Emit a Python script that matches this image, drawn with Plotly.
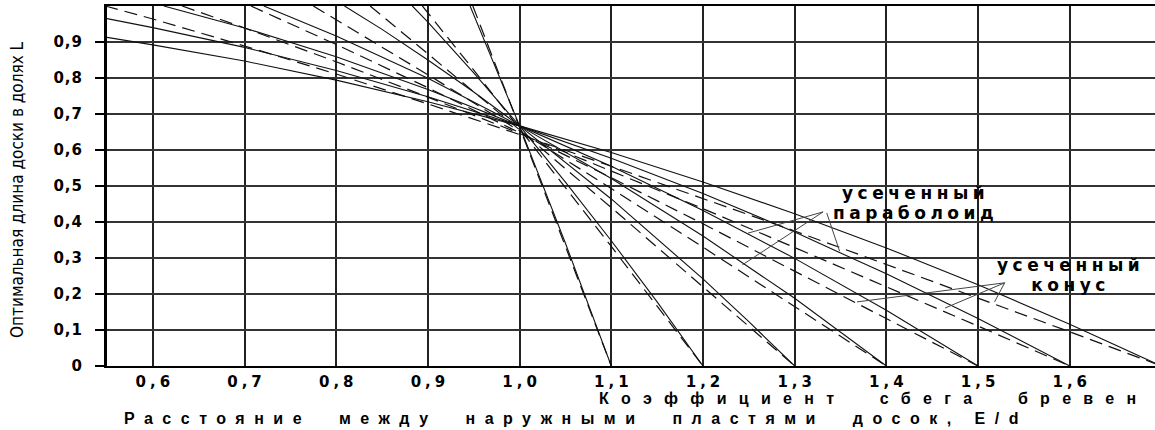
import plotly.graph_objects as go

# ---- data ----
X_TICKS = [0.6, 0.7, 0.8, 0.9, 1.0, 1.1, 1.2, 1.3, 1.4, 1.5, 1.6]
X_TICK_LABELS = ["0,6", "0,7", "0,8", "0,9", "1,0", "1,1", "1,2", "1,3", "1,4", "1,5", "1,6"]
Y_TICKS = [0, 0.1, 0.2, 0.3, 0.4, 0.5, 0.6, 0.7, 0.8, 0.9]
Y_TICK_LABELS = ["0", "0,1", "0,2", "0,3", "0,4", "0,5", "0,6", "0,7", "0,8", "0,9"]

TAPER = [1.1, 1.2, 1.3, 1.4, 1.5, 1.6, 1.7]

# truncated paraboloid (solid lines)
PARA_11_X = [0.946, 0.97, 1.0, 1.05, 1.1]
PARA_11_Y = [1.0, 0.854, 0.667, 0.341, 0.0]
PARA_12_X = [0.883, 0.9, 0.95, 1.0, 1.05, 1.1, 1.15, 1.2]
PARA_12_Y = [1.0, 0.955, 0.814, 0.667, 0.511, 0.348, 0.178, 0.0]
PARA_13_X = [0.809, 0.85, 0.9, 0.95, 1.0, 1.1, 1.2, 1.25, 1.3]
PARA_13_Y = [1.0, 0.935, 0.850, 0.761, 0.667, 0.464, 0.242, 0.123, 0.0]
PARA_14_X = [0.721, 0.76, 0.8, 0.9, 1.0, 1.1, 1.2, 1.3, 1.4]
PARA_14_Y = [1.0, 0.960, 0.917, 0.799, 0.667, 0.521, 0.361, 0.188, 0.0]
PARA_15_X = [0.612, 0.7, 0.8, 0.9, 1.0, 1.1, 1.2, 1.3, 1.4, 1.5]
PARA_15_Y = [1.0, 0.939, 0.859, 0.768, 0.667, 0.555, 0.432, 0.299, 0.155, 0.0]
PARA_16_X = [0.55, 0.6, 0.7, 0.8, 0.9, 1.0, 1.1, 1.2, 1.3, 1.4, 1.5, 1.6]
PARA_16_Y = [0.965, 0.940, 0.885, 0.821, 0.748, 0.667, 0.577, 0.479, 0.372, 0.256, 0.132, 0.0]
PARA_17_X = [0.55, 0.6, 0.7, 0.8, 0.9, 1.0, 1.1, 1.2, 1.3, 1.4, 1.5, 1.6, 1.7]
PARA_17_Y = [0.913, 0.892, 0.847, 0.794, 0.734, 0.667, 0.593, 0.511, 0.423, 0.328, 0.226, 0.116, 0.0]

# truncated cone (dashed lines)
CONE_11_X = [0.949, 0.97, 1.0, 1.05, 1.1]
CONE_11_Y = [1.0, 0.860, 0.663, 0.332, 0.0]
CONE_12_X = [0.894, 0.95, 1.0, 1.05, 1.1, 1.15, 1.2]
CONE_12_Y = [1.0, 0.822, 0.659, 0.496, 0.332, 0.166, 0.0]
CONE_13_X = [0.837, 0.9, 1.0, 1.1, 1.2, 1.3]
CONE_13_Y = [1.0, 0.868, 0.656, 0.440, 0.221, 0.0]
CONE_14_X = [0.775, 0.8, 0.9, 1.0, 1.1, 1.2, 1.3, 1.4]
CONE_14_Y = [1.0, 0.962, 0.809, 0.653, 0.493, 0.330, 0.166, 0.0]
CONE_15_X = [0.707, 0.8, 0.9, 1.0, 1.1, 1.2, 1.3, 1.4, 1.5]
CONE_15_Y = [1.0, 0.893, 0.773, 0.649, 0.523, 0.395, 0.264, 0.133, 0.0]
CONE_16_X = [0.632, 0.7, 0.8, 0.9, 1.0, 1.1, 1.2, 1.3, 1.4, 1.5, 1.6]
CONE_16_Y = [1.0, 0.939, 0.845, 0.747, 0.646, 0.542, 0.437, 0.329, 0.221, 0.111, 0.0]
CONE_17_X = [0.548, 0.6, 0.7, 0.8, 0.9, 1.0, 1.1, 1.2, 1.3, 1.4, 1.5, 1.6, 1.7]
CONE_17_Y = [1.0, 0.964, 0.889, 0.811, 0.728, 0.643, 0.555, 0.466, 0.375, 0.282, 0.189, 0.095, 0.0]

PARA = [(PARA_11_X, PARA_11_Y), (PARA_12_X, PARA_12_Y), (PARA_13_X, PARA_13_Y),
        (PARA_14_X, PARA_14_Y), (PARA_15_X, PARA_15_Y), (PARA_16_X, PARA_16_Y),
        (PARA_17_X, PARA_17_Y)]
CONE = [(CONE_11_X, CONE_11_Y), (CONE_12_X, CONE_12_Y), (CONE_13_X, CONE_13_Y),
        (CONE_14_X, CONE_14_Y), (CONE_15_X, CONE_15_Y), (CONE_16_X, CONE_16_Y),
        (CONE_17_X, CONE_17_Y)]

fig = go.Figure()
for k, (xs, ys) in zip(TAPER, CONE):
    fig.add_trace(go.Scatter(x=xs, y=ys, mode="lines", name=f"конус {k}",
                             line=dict(color="#111111", width=1.2, dash="13px,7px"),
                             hoverinfo="skip", showlegend=False))
for k, (xs, ys) in zip(TAPER, PARA):
    fig.add_trace(go.Scatter(x=xs, y=ys, mode="lines", name=f"параболоид {k}",
                             line=dict(color="#111111", width=1.1),
                             hoverinfo="skip", showlegend=False))

W, H = 1155, 430
ML, MR, MT, MB = 107, 0, 6, 64
PW, PH = W - ML - MR, H - MT - MB


def px(xp):
    return (xp - ML) / PW


def py(yp):
    return (H - MB - yp) / PH


def spaced(text, sp, size=None):
    st = f"letter-spacing:{sp}px"
    if size:
        st += f";font-size:{size}px"
    return f'<span style="{st}">{text}</span>'


def spaced_tail(text, sp, size=None):
    # letter-spaced text without trailing space after the last glyph
    return spaced(text[:-1], sp, size) + text[-1]


# two-line labels
ann_font = dict(family="DejaVu Sans, sans-serif", size=15.5, color="black", weight="bold")
annotations = [
    dict(text=spaced("усеченный", 4.5, 17) + "<br>" + spaced("параболоид", 4.5, 17),
         x=px(915), y=py(203), font=ann_font),
    dict(text=spaced("усеченный", 4.5, 17) + "<br>" + spaced("конус", 4.5, 17),
         x=px(1070), y=py(275), font=ann_font),
]
for a in annotations:
    a.update(xref="paper", yref="paper", showarrow=False, xanchor="center", yanchor="middle",
             align="center")

title_font = dict(family="Liberation Sans, Arial, sans-serif", size=16, color="black", weight="bold")
annotations += [
    dict(text=spaced_tail("Коэффициент  сбега  бревен", 12.3), x=px(597), y=py(399),
         xref="paper", yref="paper", xanchor="left", yanchor="middle",
         showarrow=False, font=title_font),
    dict(text=spaced_tail("Расстояние  между  наружными  пластями  досок, E/d", 9.5), x=px(122), y=py(418),
         xref="paper", yref="paper", xanchor="left", yanchor="middle",
         showarrow=False, font=title_font),
    dict(text="Оптимальная длина доски в долях L", x=px(17), y=py(190), textangle=-90,
         xref="paper", yref="paper", xanchor="center", yanchor="middle", showarrow=False,
         font=dict(family="Liberation Sans Narrow, DejaVu Sans Condensed, Liberation Sans, sans-serif",
                   size=17, color="black")),
]

# pointer lines of the labels (data coordinates)
arrow_segments = [
    ((1.331, 0.428), (1.243, 0.281)),
    ((1.331, 0.428), (1.249, 0.369)),
    ((1.335, 0.425), (1.349, 0.319)),
    ((1.529, 0.231), (1.368, 0.178)),
    ((1.529, 0.231), (1.464, 0.161)),
    ((1.529, 0.231), (1.518, 0.178)),
]
shapes = [dict(type="line", xref="x", yref="y", x0=a[0], y0=a[1], x1=b[0], y1=b[1],
               line=dict(color="#444444", width=1)) for a, b in arrow_segments]

xtick_font = dict(family="DejaVu Sans, sans-serif", size=15, color="black", weight="bold")
ytick_font = dict(family="DejaVu Sans, sans-serif", size=15, color="black", weight="bold")
fig.update_layout(
    width=W, height=H,
    margin=dict(l=ML, r=MR, t=MT, b=MB, pad=0),
    paper_bgcolor="white", plot_bgcolor="white",
    showlegend=False,
    annotations=annotations,
    shapes=shapes,
    xaxis=dict(range=[0.55, 1.693], tickvals=X_TICKS,
               ticktext=[spaced_tail(t, 4) for t in X_TICK_LABELS],
               showgrid=True, gridcolor="#222222", gridwidth=2,
               showline=True, linecolor="black", linewidth=2, mirror=True,
               ticks="", zeroline=False, tickfont=xtick_font, ticklabelstandoff=1),
    yaxis=dict(range=[0, 1.0], tickvals=Y_TICKS,
               ticktext=[spaced_tail(t, 1) if len(t) > 1 else t for t in Y_TICK_LABELS],
               showgrid=True, gridcolor="#333333", gridwidth=1.5,
               showline=True, linecolor="black", linewidth=3,
               ticks="outside", ticklen=9, tickwidth=1.5, tickcolor="black",
               zeroline=False, tickfont=ytick_font, ticklabelstandoff=10),
)

fig.write_html("out.html")
